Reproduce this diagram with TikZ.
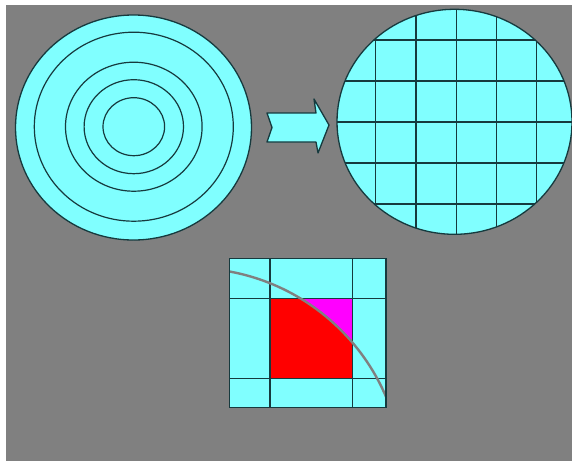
\documentclass[tikz,border=0pt]{standalone}
\usepackage{xcolor}
\usepackage{tikz}
\usetikzlibrary{positioning}

\definecolor{bggray}{RGB}{128,128,128}
\definecolor{wafercyan}{RGB}{128,255,255}
\definecolor{edgeteal}{RGB}{22,58,62}
\definecolor{arcgray}{RGB}{128,128,128}
\definecolor{diered}{RGB}{255,0,0}
\definecolor{diemagenta}{RGB}{255,0,255}

\begin{document}
\begin{tikzpicture}[
    x=1pt, y=-1pt,
    wafer/.style={fill=wafercyan, draw=edgeteal, line width=1.3pt},
    ring/.style={draw=edgeteal, line width=1.2pt},
    cut/.style={draw=edgeteal, line width=1.2pt},
    edgearc/.style={draw=arcgray, line width=2.4pt}
]
\useasboundingbox (0,0) rectangle (572,461);
\fill[white] (0,0) rectangle (572,461);
\fill[bggray] (6,5) rectangle (572,461);

% left wafer with rings
\coordinate (waferL) at (133.5,127.5);
\coordinate (ringC) at (133.8,126.7);
\path[wafer] (waferL) ellipse[x radius=118pt, y radius=112.5pt];
\foreach \rx/\ry in {99.5/94.5, 68.3/64.5, 49.7/47, 30.8/29}
  \draw[ring] (ringC) ellipse[x radius=\rx pt, y radius=\ry pt];

% arrow
\draw[wafer, line join=round] (267,113) -- (316,113) -- (314,99) -- (329,125)
  -- (318,153) -- (316,142) -- (267,142) -- (272,127.5) -- cycle;

% right wafer with dies
\coordinate (waferR) at (454.5,121.8);
\fill[wafercyan] (waferR) ellipse[x radius=117.5pt, y radius=112.5pt];
\begin{scope}
  \clip (waferR) ellipse[x radius=117.5pt, y radius=112.5pt];
  \foreach \gx in {375.7,416,456.2,496.5,536.7}
    \draw[cut] (\gx,0) -- (\gx,250);
  \foreach \gy in {40,81,122,163,204}
    \draw[cut] (330,\gy) -- (580,\gy);
\end{scope}
\draw[draw=edgeteal, line width=1.3pt] (waferR) ellipse[x radius=117.5pt, y radius=112.5pt];

% one die, close up
\coordinate (dieNW) at (229.5,258.5);
\coordinate (dieSE) at (386,407.5);
\coordinate (edgeC) at (191,480);
\fill[wafercyan] (dieNW) rectangle (dieSE);
\fill[diemagenta] (270,298.3) rectangle (352.3,378.3);
\begin{scope}
  \clip (edgeC) circle[radius=212pt];
  \fill[diered] (270,298.3) rectangle (352.3,378.3);
\end{scope}
\foreach \gx in {270,352.3}
  \draw[cut] (\gx,258.5) -- (\gx,407.5);
\foreach \gy in {298.3,378.3}
  \draw[cut] (229.5,\gy) -- (386,\gy);
\begin{scope}
  \clip (dieNW) rectangle (dieSE);
  \draw[edgearc] (edgeC) circle[radius=212pt];
\end{scope}
\draw[cut] (dieNW) rectangle (dieSE);
\end{tikzpicture}
\end{document}
